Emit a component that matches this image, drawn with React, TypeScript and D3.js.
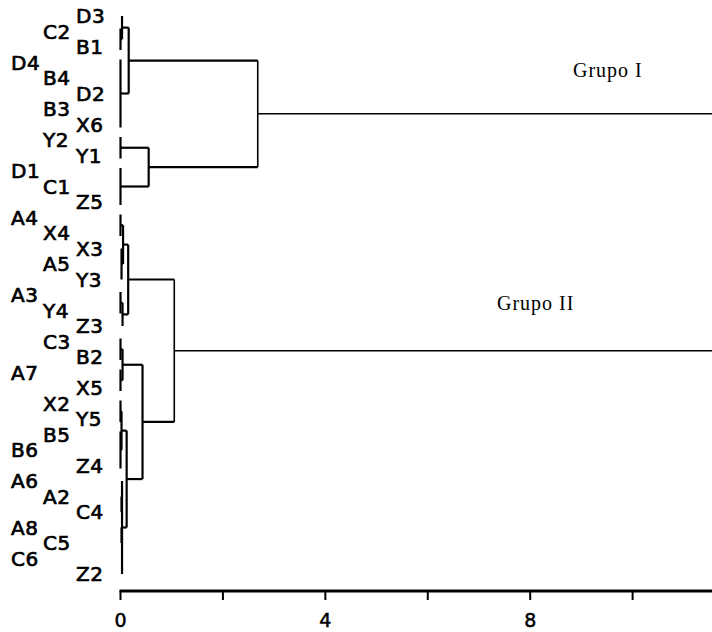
import React from 'react';
import * as d3 from 'd3';

// leaf order, top to bottom
const leaves = [
  'D3', 'C2', 'B1', 'D4', 'B4', 'D2', 'B3', 'X6', 'Y2', 'Y1', 'D1', 'C1', 'Z5',
  'A4', 'X4', 'X3', 'A5', 'Y3', 'A3', 'Y4', 'Z3', 'C3', 'B2', 'A7', 'X5',
  'X2', 'Y5', 'B5', 'B6', 'Z4', 'A6', 'A2', 'C4', 'A8', 'C5', 'C6', 'Z2',
];
// which of the three staggered label columns each leaf label sits in
const labelColumn = [
  2, 1, 2, 0, 1, 2, 1, 2, 1, 2, 0, 1, 2,
  0, 1, 2, 1, 2, 0, 1, 2, 1, 2, 0, 2,
  1, 2, 1, 0, 2, 0, 1, 2, 0, 1, 0, 2,
];
const tickValues = [0, 2, 4, 6, 8, 10];
const tickLabels = ['0', '', '4', '', '8', ''];
const groupNames = ['Grupo I', 'Grupo II'];

interface TreeNode {
  name?: string;
  h: number;
  children?: TreeNode[];
}

const leaf = (name: string): TreeNode => ({ name, h: 0 });
const join = (h: number, ...kids: (TreeNode | string)[]): TreeNode => ({
  h,
  children: kids.map((k) => (typeof k === 'string' ? leaf(k) : k)),
});

// merge heights (distance)
const grupoI = join(
  2.68,
  join(0.16, join(0.03, 'D3', join(0, 'C2', 'B1')), join(0, 'D4', 'B4', 'D2', 'B3', 'X6')),
  join(0.55, join(0, 'Y2', 'Y1'), join(0, 'D1', 'C1', 'Z5')),
);
const grupoII = join(
  1.05,
  join(
    0.15,
    join(0.05, join(0, 'A4', 'X4'), join(0.02, 'X3', 'A5', 'Y3')),
    join(0.04, join(0, 'A3', 'Y4'), 'Z3'),
  ),
  join(
    0.43,
    join(0.04, join(0, 'C3', 'B2'), join(0, 'A7', 'X5')),
    join(
      0.12,
      join(0.02, join(0, 'X2', 'Y5'), join(0, 'B5', 'B6', 'Z4')),
      join(0.03, 'A6', join(0.02, 'A2', 'C4'), join(0.02, 'A8', 'C5'), 'C6', 'Z2'),
    ),
  ),
);
const tree = join(14, grupoI, grupoII);

const W = 712;
const H = 632;

const App: React.FC = () => {
  const x = d3.scaleLinear().domain([0, 11.55]).range([120.5, W]);
  const y = d3.scalePoint<string>().domain(leaves).range([16, 574]);

  const root = d3.hierarchy<TreeNode>(tree);
  // y of internal nodes = middle of first and last child
  const posY = new Map<d3.HierarchyNode<TreeNode>, number>();
  root.eachAfter((n) => {
    if (!n.children) posY.set(n, y(n.data.name!)!);
    else posY.set(n, (posY.get(n.children[0])! + posY.get(n.children[n.children.length - 1])!) / 2);
  });

  const segs: { x1: number; y1: number; x2: number; y2: number; w: number }[] = [];
  root.each((n) => {
    if (!n.children) return;
    const xn = x(n.data.h);
    const top = n.depth === 0;
    const w = n.depth <= 1 ? 1.6 : 2.2;
    segs.push({ x1: xn, y1: posY.get(n.children[0])!, x2: xn, y2: posY.get(n.children[n.children.length - 1])!, w });
    n.children.forEach((c) => {
      if (!c.children) return;
      segs.push({ x1: x(c.data.h), y1: posY.get(c)!, x2: xn, y2: posY.get(c)!, w: top ? 1.5 : 2.2 });
    });
  });

  const leafExtend = 3;
  const colX = [11, 43, 76];
  const axisY = 591;

  return (
    <svg
      width={W}
      height={H}
      style={{ position: 'absolute', left: 0, top: 0, background: '#fff' }}
      fontFamily="DejaVu Sans"
    >
      {segs.map((s, i) => (
        <line
          key={i}
          x1={s.x1}
          y1={s.y1 === s.y2 ? s.y1 : s.y1 - (s.x1 === x(0) ? leafExtend : 0)}
          x2={s.x2}
          y2={s.y1 === s.y2 ? s.y2 : s.y2 + (s.x1 === x(0) ? leafExtend : 0)}
          stroke="#000"
          strokeWidth={s.w}
        />
      ))}
      {leaves.map((name, i) => (
        <text
          key={name}
          x={colX[labelColumn[i]]}
          y={y(name)!}
          dy="0.36em"
          fontSize={20}
          letterSpacing={0.5}
          fill="#000"
          stroke="#000"
          strokeWidth={0.7}
        >
          {name}
        </text>
      ))}
      <text x={573} y={70} dy="0.35em" fontFamily="Liberation Serif" fontSize={20} letterSpacing={1}>
        {groupNames[0]}
      </text>
      <text x={497} y={303} dy="0.35em" fontFamily="Liberation Serif" fontSize={20} letterSpacing={1}>
        {groupNames[1]}
      </text>
      {/* x axis */}
      <line x1={x(0) - 1} x2={W} y1={axisY} y2={axisY} stroke="#000" strokeWidth={3} />
      {tickValues.map((t, i) => (
        <g key={t} transform={`translate(${x(t)},${axisY})`}>
          <line y1={0} y2={9} stroke="#000" strokeWidth={2} />
          {tickLabels[i] && (
            <text y={29} textAnchor="middle" dy="0.36em" fontSize={19} stroke="#000" strokeWidth={0.5}>
              {tickLabels[i]}
            </text>
          )}
        </g>
      ))}
    </svg>
  );
};

export default App;
